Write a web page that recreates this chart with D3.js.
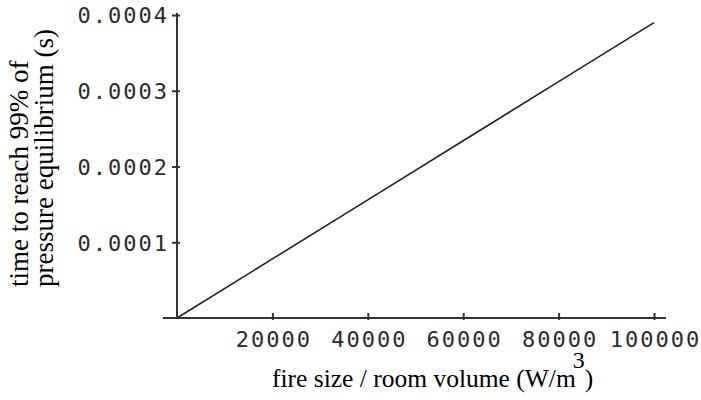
<!DOCTYPE html>
<html>
<head>
<meta charset="utf-8">
<script src="https://cdn.jsdelivr.net/npm/d3@7"></script>
<style>
body { margin: 0; background: #fff; }
</style>
</head>
<body>
<script>
// fire size per room volume (W/m3) vs time to 99% pressure equilibrium (s)
var fireSize = [0, 20000, 40000, 60000, 80000, 100000];
var eqTime = [0, 0.000078, 0.000156, 0.000234, 0.000312, 0.00039];
var xTicks = [20000, 40000, 60000, 80000, 100000];
var yTicks = [0.0001, 0.0002, 0.0003, 0.0004];

var width = 701, height = 400;
var margin = {top: 15, right: 47, bottom: 82, left: 177};

var svg = d3.select('body').append('svg')
    .attr('width', width)
    .attr('height', height);

var x = d3.scaleLinear().domain([0, 100000]).range([margin.left, width - margin.right]);
var y = d3.scaleLinear().domain([0, 0.0004]).range([height - margin.bottom, margin.top]);

var tickFont = '"DejaVu Sans Mono", monospace';
var axisColor = '#333';

// x axis
var gx = svg.append('g')
    .attr('transform', 'translate(0,' + y(0) + ')')
    .call(d3.axisBottom(x).tickValues(xTicks).tickSize(7).tickFormat(d3.format('d')));
gx.select('.domain').remove();
gx.selectAll('.tick line').attr('y1', -5).attr('y2', 2).attr('stroke', axisColor).attr('stroke-width', 2);
gx.selectAll('.tick text')
    .attr('y', 29).attr('dy', 0).attr('dx', 1)
    .style('font-family', tickFont).style('font-size', '22px').style('letter-spacing', '2px')
    .attr('fill', '#2a2a2a');
gx.append('line')
    .attr('x1', x(0) - 14).attr('x2', x(100000) + 12)
    .attr('stroke', axisColor).attr('stroke-width', 2);

// y axis
var gy = svg.append('g')
    .attr('transform', 'translate(' + x(0) + ',0)')
    .call(d3.axisLeft(y).tickValues(yTicks).tickSize(5).tickFormat(d3.format('.4f')));
gy.select('.domain').remove();
gy.selectAll('.tick line').attr('x1', -5).attr('x2', 3).attr('stroke', axisColor).attr('stroke-width', 2);
gy.selectAll('.tick text')
    .attr('x', -8).attr('dy', '0.36em')
    .style('font-family', tickFont).style('font-size', '22px').style('letter-spacing', '2px')
    .attr('fill', '#2a2a2a');
gy.append('line')
    .attr('y1', y(0.0004) - 2).attr('y2', y(0))
    .attr('stroke', axisColor).attr('stroke-width', 2);

// data line
var line = d3.line()
    .x(function(d, i) { return x(fireSize[i]); })
    .y(function(d) { return y(d); });

svg.append('path')
    .datum(eqTime)
    .attr('d', line)
    .attr('fill', 'none')
    .attr('stroke', '#222')
    .attr('stroke-width', 1.6);

// axis titles
var titleFont = '"Liberation Serif", "Times New Roman", serif';

var xt = svg.append('text')
    .attr('x', 272).attr('y', 387)
    .style('font-family', titleFont).style('font-size', '25.5px')
    .attr('fill', '#000');
xt.append('tspan').text('fire size / room volume (W/m');
xt.append('tspan').attr('dx', -3).attr('dy', -19).style('font-size', '24px').text('3');
xt.append('tspan').attr('dy', 19).text(')');

var yt = svg.append('text')
    .attr('transform', 'translate(28,287) rotate(-90)')
    .style('font-family', titleFont).style('font-size', '27px')
    .attr('fill', '#000');
yt.append('tspan').attr('x', 0).attr('y', 0).text('time to reach 99% of');
yt.append('tspan').attr('x', 0).attr('y', 25).text('pressure equilibrium (s)');
</script>
</body>
</html>
